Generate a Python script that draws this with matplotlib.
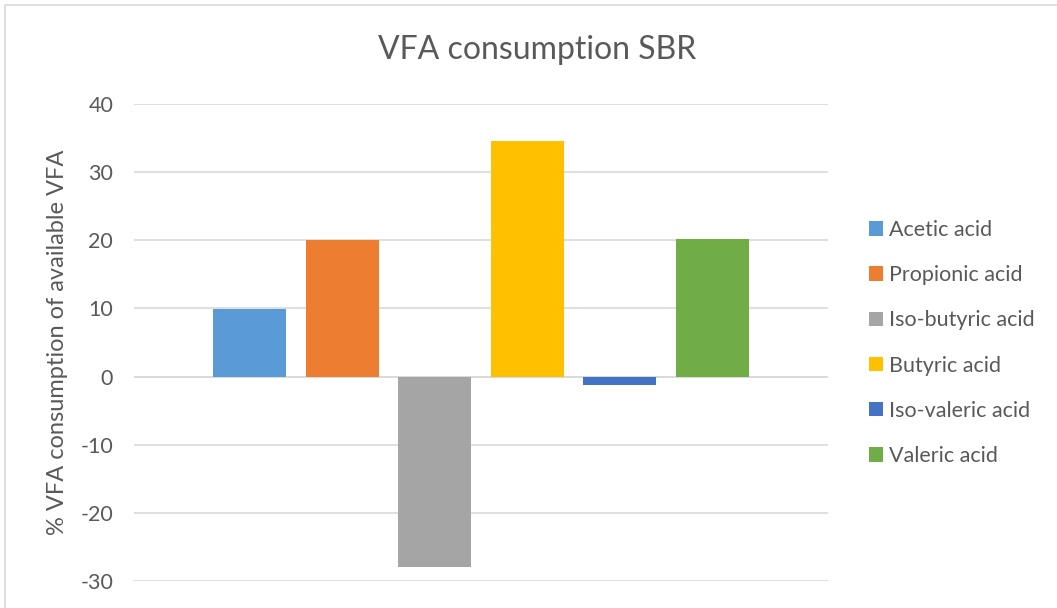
import matplotlib.pyplot as plt
from matplotlib.patches import Rectangle

acids = ['Acetic acid', 'Propionic acid', 'Iso-butyric acid',
         'Butyric acid', 'Iso-valeric acid', 'Valeric acid']
consumption = [9.9, 20.1, -28.0, 34.6, -1.3, 20.2]
colors = ['#5B9BD5', '#ED7D31', '#A5A5A5', '#FFC000', '#4472C4', '#70AD47']
yticks = [-30, -20, -10, 0, 10, 20, 30, 40]

text_col = '#595959'
grid_col = '#D9D9D9'
plt.rcParams['font.family'] = ['Lato', 'DejaVu Sans']
plt.rcParams['axes.unicode_minus'] = False

fig = plt.figure(figsize=(10.57, 6.08), dpi=100)
ax = fig.add_axes([134 / 1057, 1 - 581 / 608, (828 - 134) / 1057, (581 - 104) / 608])

# outer chart border (light gray, runs off the image)
fig.patches.append(Rectangle((5 / 1057, -0.05), 1.2, 1 - 5 / 608 + 0.05,
                             transform=fig.transFigure, fill=False,
                             edgecolor=grid_col, linewidth=1.2))

for i, (name, val, c) in enumerate(zip(acids, consumption, colors)):
    ax.bar(i, val, width=0.79, color=c, label=name, zorder=3)

ax.set_xlim(-1.25, 6.25)
ax.set_ylim(-30, 40)
ax.set_yticks(yticks)
ax.set_xticks([])
ax.yaxis.grid(True, color=grid_col, linewidth=1.2, zorder=0)
ax.axhline(0, color=grid_col, linewidth=1.2, zorder=2)
for s in ax.spines.values():
    s.set_visible(False)
ax.tick_params(axis='y', length=0, pad=15, labelsize=15.5, labelcolor=text_col)

ax.set_ylabel('% VFA consumption of available VFA', fontsize=17,
              color=text_col)
ax.yaxis.set_label_coords((68 - 134) / 694, 0.5)

fig.text(537 / 1057, 1 - 50 / 608, 'VFA consumption SBR', ha='center',
         va='center', fontsize=23, color=text_col)

leg = ax.legend(loc='center left', bbox_to_anchor=(869 / 1057, 1 - 343 / 608),
                bbox_transform=fig.transFigure, frameon=False, fontsize=15.5,
                labelcolor=text_col, handlelength=0.65, handleheight=0.65,
                handletextpad=0.3, labelspacing=1.17, borderpad=0,
                borderaxespad=0)

fig.savefig('out.png', dpi=100)
